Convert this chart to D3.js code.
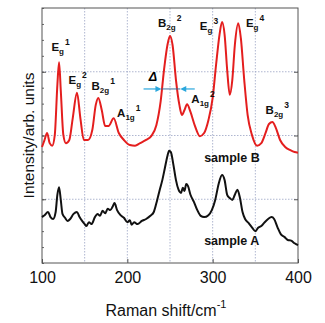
<!DOCTYPE html>
<html lang="en">
<head>
<meta charset="UTF-8">
<title>Raman</title>
<script src="https://d3js.org/d3.v7.min.js"></script>
<style>
  body { margin: 0; background: #fff; }
  svg { display: block; font-family: Arial, "Liberation Sans", sans-serif; }
</style>
</head>
<body>
<svg width="325" height="323"></svg>
<script>
  // Raman shift (cm^-1) and intensity (arb. units)
  const shiftB = [100,103,106,109,112,115,118,120,122,125,128,132,136,141,145,149,154,159,163,166,170,174,178,184,190,196,203,209,215,222,228,234,239,243,247,250,253,257,261,264,267,270,274,279,285,290,295,300,304,308,311,314,317,320,323,326,330,333,337,341,346,352,357,362,366,370,374,379,385,391,396,400]
  const sampleB = [1.82,1.93,2.04,1.88,1.84,2.01,2.79,3.15,2.71,2.01,1.88,1.93,2.27,2.67,2.27,1.93,1.93,2.09,2.48,2.59,2.40,2.15,2.15,2.27,2.04,1.93,1.85,1.84,1.88,1.93,1.99,2.16,2.53,3.03,3.42,3.56,3.42,2.87,2.48,2.32,2.40,2.49,2.37,2.16,1.99,2.04,2.24,2.59,3.11,3.58,3.78,3.58,3.03,2.64,2.87,3.42,3.76,3.53,2.87,2.32,2.01,1.84,1.88,2.04,2.18,2.21,2.12,1.93,1.82,1.77,1.74,1.73]

  const shiftA = [100,103,107,110,113,116,118,120,122,124,127,130,133,137,141,144,147,150,152,155,158,162,165,168,171,174,177,180,183,185,188,192,196,200,203,205,208,212,217,222,227,231,235,238,241,244,247,249,251,254,257,260,263,265,267,269,271,274,278,282,286,290,295,299,303,307,311,314,317,320,323,326,329,332,335,338,342,346,350,353,357,361,365,369,372,376,380,384,388,392,396,400]
  const sampleA = [0.72,0.75,0.80,0.72,0.69,0.80,1.07,1.19,0.99,0.77,0.71,0.66,0.69,0.77,0.80,0.72,0.66,0.61,0.58,0.64,0.61,0.72,0.77,0.74,0.82,0.78,0.85,0.83,0.89,0.94,0.83,0.75,0.71,0.64,0.67,0.60,0.64,0.61,0.66,0.69,0.74,0.80,0.99,1.15,1.30,1.49,1.68,1.76,1.74,1.54,1.30,1.15,1.10,1.18,1.13,1.24,1.21,1.07,0.96,0.83,0.74,0.72,0.75,0.83,0.99,1.24,1.38,1.30,1.07,1.02,0.99,1.07,1.15,1.02,0.80,0.69,0.63,0.56,0.50,0.55,0.58,0.64,0.69,0.72,0.69,0.56,0.45,0.41,0.36,0.35,0.31,0.28]

  const xTicks = [100, 200, 300, 400]
  const xGrid = [150, 200, 250, 300, 350]
  const yGrid = [1, 2, 3]

  // peak labels: [shift, intensity, main, sub, sup]
  const peaks = [
    [111, 3.32, "E", "g", "1"],
    [131, 2.81, "E", "g", "2"],
    [158, 2.71, "B", "2g", "1"],
    [188, 2.29, "A", "1g", "1"],
    [236, 3.70, "B", "2g", "2"],
    [275, 2.51, "A", "1g", "2"],
    [285, 3.65, "E", "g", "3"],
    [339, 3.70, "E", "g", "4"],
    [362, 2.33, "B", "2g", "3"]
  ]

  const svg = d3.select("svg")
  const mLeft = 42, mRight = 298, mTop = 8, mBottom = 263

  const x = d3.scaleLinear().domain([100, 400]).range([mLeft, mRight])
  const y = d3.scaleLinear().domain([0, 4]).range([mBottom, mTop])

  // grid
  svg.append("g").selectAll("line").data(xGrid).join("line")
    .attr("x1", d => x(d)).attr("x2", d => x(d))
    .attr("y1", mTop).attr("y2", mBottom)
    .attr("stroke", "#9aa3c4").attr("stroke-width", 0.8).attr("stroke-dasharray", "1.5,1.5")
  svg.append("g").selectAll("line").data(yGrid).join("line")
    .attr("y1", d => y(d)).attr("y2", d => y(d))
    .attr("x1", mLeft).attr("x2", mRight)
    .attr("stroke", "#9aa3c4").attr("stroke-width", 0.8).attr("stroke-dasharray", "1.5,1.5")

  // axes (ticks inside)
  svg.append("g").attr("transform", `translate(0,${mBottom})`)
    .call(d3.axisBottom(x).tickValues(xTicks).tickSize(-4).tickPadding(9).tickFormat(d3.format("d")))
    .call(g => g.select(".domain").remove())
    .call(g => g.selectAll("line").attr("stroke", "#555"))
    .call(g => g.selectAll("text").attr("font-size", 16).attr("font-family", "Arial, Liberation Sans, sans-serif").attr("fill", "#111"))
  svg.append("g").attr("transform", `translate(${mLeft},0)`)
    .call(d3.axisLeft(y).tickValues(d3.range(0, 4.01, 0.25)).tickSize(-2).tickFormat(""))
    .call(g => g.select(".domain").remove())
    .call(g => g.selectAll("line").attr("stroke", "#666"))
  svg.append("g").attr("transform", `translate(${mLeft},0)`)
    .call(d3.axisLeft(y).tickValues(yGrid).tickSize(-4).tickFormat(""))
    .call(g => g.select(".domain").remove())
    .call(g => g.selectAll("line").attr("stroke", "#555"))
  svg.append("g").attr("transform", `translate(${mRight},0)`)
    .call(d3.axisRight(y).tickValues(yGrid).tickSize(-4).tickFormat(""))
    .call(g => g.select(".domain").remove())
    .call(g => g.selectAll("line").attr("stroke", "#555"))

  svg.append("rect").attr("x", mLeft).attr("y", mTop)
    .attr("width", mRight - mLeft).attr("height", mBottom - mTop)
    .attr("fill", "none").attr("stroke", "#555").attr("stroke-width", 1)

  const line = d3.line().x(d => x(d[0])).y(d => y(d[1])).curve(d3.curveMonotoneX)

  svg.append("path").datum(d3.zip(shiftA, sampleA))
    .attr("d", line).attr("fill", "none").attr("stroke", "#111").attr("stroke-width", 2)
  svg.append("path").datum(d3.zip(shiftB, sampleB))
    .attr("d", line).attr("fill", "none").attr("stroke", "#e41e1e").attr("stroke-width", 2)

  // peak labels
  peaks.forEach(p => {
    const t = svg.append("text").attr("x", x(p[0])).attr("y", y(p[1]))
      .attr("font-size", 11.5).attr("font-weight", "bold").attr("fill", "#111")
    t.append("tspan").text(p[2])
    t.append("tspan").attr("font-size", 8).attr("dy", 3).text(p[3])
    t.append("tspan").attr("font-size", 8.5).attr("dy", -9).attr("dx", 1).text(p[4])
  })

  // width marker
  const arrowY = y(2.73)
  svg.append("text").attr("x", x(225)).attr("y", y(2.86))
    .attr("font-size", 12.5).attr("font-weight", "bold").attr("font-style", "italic").text("Δ")
  svg.append("line").attr("x1", x(240)).attr("x2", x(262)).attr("y1", arrowY).attr("y2", arrowY)
    .attr("stroke", "#3a6f9a").attr("stroke-width", 1)
  svg.append("line").attr("x1", x(219)).attr("x2", x(236)).attr("y1", arrowY).attr("y2", arrowY)
    .attr("stroke", "#2aa7dd").attr("stroke-width", 1.2)
  svg.append("path").attr("d", `M${x(240)},${arrowY} l-6,-3 l0,6 z`).attr("fill", "#2aa7dd")
  svg.append("line").attr("x1", x(266)).attr("x2", x(279)).attr("y1", arrowY).attr("y2", arrowY)
    .attr("stroke", "#2aa7dd").attr("stroke-width", 1.2)
  svg.append("path").attr("d", `M${x(262)},${arrowY} l6,-3 l0,6 z`).attr("fill", "#2aa7dd")

  svg.append("text").attr("x", x(290)).attr("y", 162)
    .attr("font-size", 12.5).attr("font-weight", "bold").attr("fill", "#111").text("sample B")
  svg.append("text").attr("x", x(290)).attr("y", 245)
    .attr("font-size", 12.5).attr("font-weight", "bold").attr("fill", "#111").text("sample A")

  // axis titles
  svg.append("text").attr("transform", `translate(34,${(mTop + mBottom) / 2}) rotate(-90)`)
    .attr("text-anchor", "middle").attr("font-size", 15.5).attr("fill", "#111")
    .text("Intensity/arb. units")
  const xt = svg.append("text").attr("x", (mLeft + mRight) / 2 - 4).attr("y", 316)
    .attr("text-anchor", "middle").attr("font-size", 16).attr("fill", "#111")
  xt.append("tspan").text("Raman shift/cm")
  xt.append("tspan").attr("font-size", 11).attr("dy", -8).text("-1")
</script>
</body>
</html>
